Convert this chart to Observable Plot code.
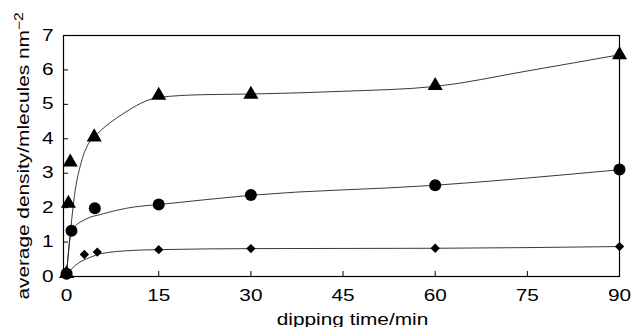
<!DOCTYPE html>
<html>
<head>
<meta charset="utf-8">
<script src="https://cdn.jsdelivr.net/npm/d3@7"></script>
<script src="https://cdn.jsdelivr.net/npm/@observablehq/plot@0.6"></script>
<style>
  html, body { margin: 0; padding: 0; background: #fff; }
  svg { display: block; }
</style>
</head>
<body>
<div id="chart"></div>
<script>
// ---- data ----
const triTime = [0, 0.3, 0.6, 4.5, 15, 30, 60, 90];
const triDensity = [0.08, 2.12, 3.32, 4.05, 5.26, 5.29, 5.54, 6.44];
const circTime = [0, 0.8, 4.6, 15, 30, 60, 90];
const circDensity = [0.08, 1.33, 1.98, 2.09, 2.37, 2.65, 3.11];
const diaTime = [0, 2.9, 5, 15, 30, 60, 90];
const diaDensity = [0.05, 0.64, 0.71, 0.78, 0.81, 0.82, 0.87];

// fitted curves as drawn
const triFitTime = [0, 0.5, 1.4, 2.2, 3.6, 4.5, 9.3, 15, 22, 30, 45, 60, 75, 90];
const triFitDensity = [0.08, 1.05, 2.5, 3.19, 3.87, 4.05, 4.74, 5.2, 5.28, 5.3, 5.38, 5.52, 5.97, 6.44];
const circFitTime = [0, 0.8, 3.3, 5.5, 11, 15, 30, 60, 90];
const circFitDensity = [0.08, 1.32, 1.68, 1.8, 2.02, 2.09, 2.36, 2.65, 3.1];
const diaFitTime = [0, 1.1, 3.9, 5.5, 11, 15, 30, 60, 90];
const diaFitDensity = [0.05, 0.27, 0.56, 0.66, 0.76, 0.78, 0.81, 0.82, 0.87];

const xTicks = [0, 15, 30, 45, 60, 75, 90];
const yTicks = [0, 1, 2, 3, 4, 5, 6, 7];
const xTitle = "dipping time/min";
const yTitle = "average density/mlecules nm";
const yTitleSup = "\u22122";

const toRows = (t, v) => t.map((d, i) => ({t: d, v: v[i]}));
const tri = toRows(triTime, triDensity);
const circ = toRows(circTime, circDensity);
const dia = toRows(diaTime, diaDensity);
const triFit = toRows(triFitTime, triFitDensity);
const circFit = toRows(circFitTime, circFitDensity);
const diaFit = toRows(diaFitTime, diaFitDensity);

const font = "'Liberation Sans', Arial, Helvetica, sans-serif";

const chart = Plot.plot({
  width: 633,
  height: 327,
  marginLeft: 63,
  marginRight: 14,
  marginTop: 35,
  marginBottom: 51,
  style: {fontFamily: font, fontSize: "16px", color: "#000", background: "#fff"},
  x: {domain: [-0.5, 90]},
  y: {domain: [0, 7]},
  marks: [
    Plot.frame({stroke: "#000", strokeWidth: 1.2}),
    Plot.axisX({ticks: xTicks, tickFormat: d => String(d), tickSize: 0, tickPadding: 13, label: null, fontSize: 16}),
    Plot.axisX({ticks: xTicks, tickSize: 5, text: null, dy: -5, label: null}),
    Plot.axisY({ticks: yTicks, tickFormat: d => String(d), tickSize: 0, tickPadding: 10, label: null, fontSize: 16}),
    Plot.axisY({ticks: yTicks, tickSize: 5, text: null, dx: 5, label: null}),
    Plot.line(triFit, {x: "t", y: "v", curve: "monotone-x", stroke: "#222", strokeWidth: 0.9}),
    Plot.line(circFit, {x: "t", y: "v", curve: "monotone-x", stroke: "#222", strokeWidth: 0.9}),
    Plot.line(diaFit, {x: "t", y: "v", curve: "monotone-x", stroke: "#222", strokeWidth: 0.9}),
    Plot.dot(tri, {x: "t", y: "v", symbol: "triangle", r: 5.6, fill: "#000", stroke: "none"}),
    Plot.dot(circ, {x: "t", y: "v", symbol: "circle", r: 6, fill: "#000", stroke: "none"}),
    Plot.dot(dia, {x: "t", y: "v", symbol: "diamond2", r: 4.2, fill: "#000", stroke: "none"}),
    Plot.text([xTitle], {frameAnchor: "bottom", text: d => d, textAnchor: "middle", lineAnchor: "middle", dy: 43, dx: 11, fontSize: 16, fill: "#000"}),
    Plot.text([yTitle], {frameAnchor: "left", text: d => d, textAnchor: "middle", lineAnchor: "middle", rotate: -90, dx: -40, fontSize: 16, fill: "#000"})
  ]
});

document.getElementById("chart").appendChild(chart);

// superscript on the y title, then widen all glyphs like the original lettering
d3.select(chart).selectAll("text").each(function() {
  if (this.textContent === yTitle) {
    d3.select(this).append("tspan").attr("dy", "-0.45em").attr("font-size", "12px").text(yTitleSup);
  }
});
d3.select(chart).selectAll("text").each(function() {
  const len = this.getComputedTextLength();
  if (len > 0) {
    this.setAttribute("textLength", (len * 1.3).toFixed(1));
    this.setAttribute("lengthAdjust", "spacingAndGlyphs");
  }
});
</script>
</body>
</html>
